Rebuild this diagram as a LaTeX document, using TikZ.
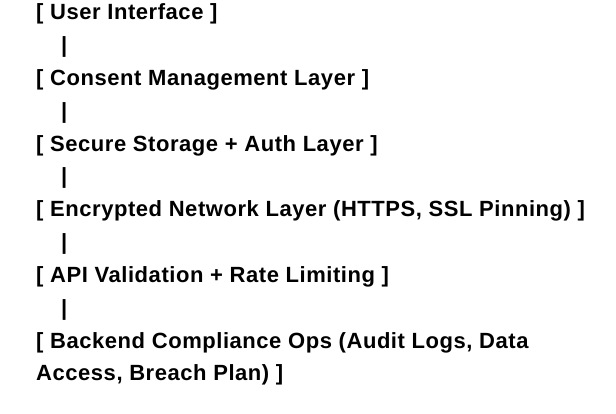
\documentclass[tikz,border=0pt]{standalone}
\usepackage{fontspec}
\setmainfont[LetterSpace=2.5]{Liberation Sans}
\usepackage{tikz}

\begin{document}
\begin{tikzpicture}[x=1pt,y=1pt]
            \useasboundingbox (0,0) rectangle (616,-414);
            \begin{scope}[every node/.style={anchor=base west, inner sep=0pt, font=\fontsize{22}{26}\selectfont\bfseries}]
                \node (0) at (36,-20) {[ User Interface ]};
                \node (1) at (61,-52.8) {|};
                \node (2) at (36,-85.6) {[ Consent Management Layer ]};
                \node (3) at (61,-118.4) {|};
                \node (4) at (36,-151.2) {[ Secure Storage + Auth Layer ]};
                \node (5) at (61,-184) {|};
                \node (6) at (36,-216.8) {[ Encrypted Network Layer (HTTPS, SSL Pinning) ]};
                \node (7) at (61,-249.6) {|};
                \node (8) at (36,-282.4) {[ API Validation + Rate Limiting ]};
                \node (9) at (61,-315.2) {|};
                \node (10) at (36,-348) {[ Backend Compliance Ops (Audit Logs, Data};
                \node (11) at (36,-380.8) {Access, Breach Plan) ]};
            \end{scope}
        \end{tikzpicture}
\end{document}
